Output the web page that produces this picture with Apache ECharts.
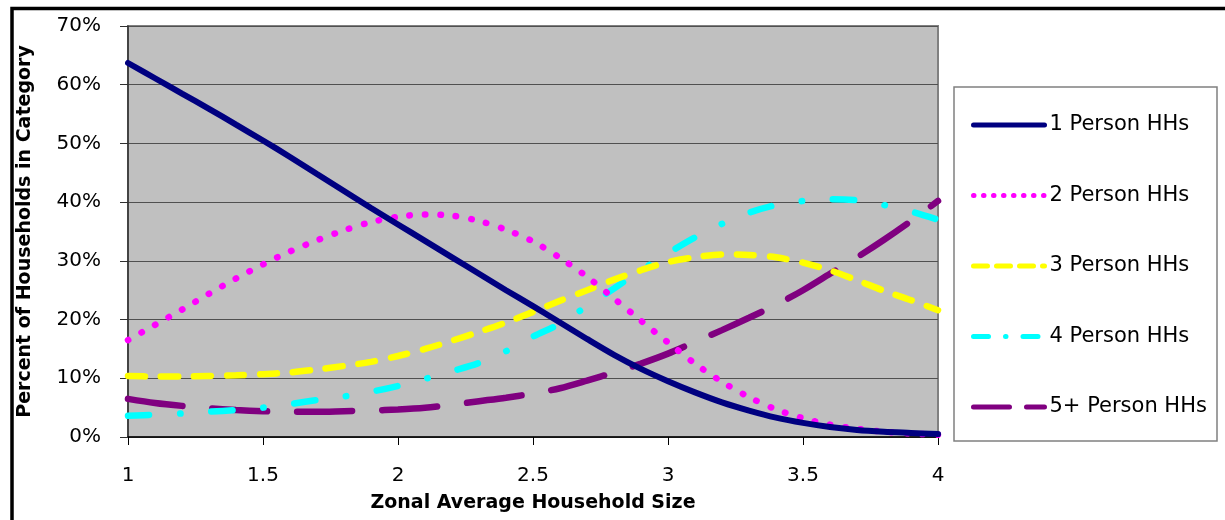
<!DOCTYPE html>
<html>
<head>
<meta charset="utf-8">
<script src="https://cdn.jsdelivr.net/npm/echarts@6/dist/echarts.min.js"></script>
<style>
html,body{margin:0;padding:0;background:#fff;}
#chart{width:1225px;height:520px;}
</style>
</head>
<body>
<div id="chart"></div>
<script>
// Zonal average household size (x)
const householdSize = [1.0,1.1,1.2,1.3,1.4,1.5,1.6,1.7,1.8,1.9,2.0,2.1,2.2,2.3,2.4,2.5,2.6,2.7,2.8,2.9,3.0,3.1,3.2,3.3,3.4,3.5,3.6,3.7,3.8,3.9,4.0];
// Percent of households in each category
const onePerson = [63.7,61.1,58.5,55.9,53.2,50.5,47.7,44.8,41.9,39.0,36.2,33.4,30.6,27.8,25.0,22.3,19.5,16.7,14.0,11.6,9.5,7.6,5.9,4.5,3.3,2.4,1.7,1.2,0.9,0.7,0.5];
const twoPerson = [16.5,19.1,21.7,24.4,27.0,29.4,31.6,33.5,35.2,36.6,37.5,37.9,37.7,36.8,35.3,33.3,30.5,27.3,23.6,19.8,16.1,12.5,9.4,6.8,4.7,3.2,2.1,1.4,0.9,0.6,0.4];
const threePerson = [10.4,10.3,10.3,10.4,10.5,10.7,11.0,11.5,12.1,12.8,13.8,15.0,16.4,17.9,19.5,21.3,23.2,25.0,26.8,28.4,29.8,30.6,31.1,31.0,30.6,29.7,28.4,26.7,24.9,23.3,21.6];
const fourPerson = [3.6,3.8,4.0,4.3,4.6,5.0,5.6,6.3,6.9,7.7,8.7,9.9,11.2,12.6,14.6,17.1,19.3,22.3,25.3,28.4,31.3,34.0,36.3,38.2,39.5,40.2,40.5,40.3,39.5,38.4,37.0];
const fivePlusPerson = [6.5,5.8,5.3,4.9,4.6,4.4,4.3,4.3,4.4,4.5,4.7,5.0,5.5,6.1,6.7,7.4,8.3,9.6,11.0,12.5,14.2,16.2,18.2,20.3,22.5,25.0,27.8,30.6,33.6,36.8,40.2];
const seriesNames = ['1 Person HHs','2 Person HHs','3 Person HHs','4 Person HHs','5+ Person HHs'];
const xTitle = 'Zonal Average Household Size';
const yTitle = 'Percent of Households in Category';

const pair = arr => householdSize.map((x, i) => [x, arr[i]]);

const styles = [
  {color:'#000080', width:6, type:'solid', cap:'round'},
  {color:'#FF00FF', width:6.5, type:[0.5,15], cap:'round'},
  {color:'#FFFF00', width:6.5, type:[17,16], cap:'round'},
  {color:'#00FFFF', width:6.5, type:[21,31,0.5,31], cap:'round'},
  {color:'#800080', width:6.5, type:[55,30], cap:'round'}
];
const legendDash = ['solid', [0.5,9.5], [14,9], [15,17,0.5,17], [36,17]];
const allData = [onePerson, twoPerson, threePerson, fourPerson, fivePlusPerson];

const chart = echarts.init(document.getElementById('chart'), null, {renderer:'canvas'});
chart.setOption({
  animation:false,
  backgroundColor:'#ffffff',
  textStyle:{fontFamily:'DejaVu Sans'},
  grid:{left:128, top:26, right:287, bottom:83, show:true, backgroundColor:'#C0C0C0', borderColor:'#808080', borderWidth:2},
  xAxis:{
    type:'value', min:1, max:4, interval:0.5,
    name:xTitle, nameLocation:'middle', nameGap:57,
    nameTextStyle:{fontFamily:'DejaVu Sans', fontWeight:'bold', fontSize:19, color:'#000'},
    axisLine:{show:true, lineStyle:{color:'#000', width:1.5}},
    axisTick:{show:true, length:8, lineStyle:{color:'#000'}},
    axisLabel:{fontFamily:'DejaVu Sans', fontSize:20, color:'#000', margin:29},
    splitLine:{show:false}
  },
  yAxis:{
    type:'value', min:0, max:70, interval:10,
    name:yTitle, nameLocation:'middle', nameGap:93, nameRotate:90,
    nameTextStyle:{fontFamily:'DejaVu Sans', fontWeight:'bold', fontSize:19, color:'#000'},
    axisLine:{show:true, lineStyle:{color:'#303030', width:1.5}},
    axisTick:{show:true, length:8, lineStyle:{color:'#303030'}},
    axisLabel:{fontFamily:'DejaVu Sans', fontSize:20, color:'#000', margin:27, formatter:'{value}%'},
    splitLine:{show:true, lineStyle:{color:'#505050', width:1.2}}
  },
  legend:{
    orient:'vertical', left:966, top:108,
    itemWidth:71, itemHeight:6, itemGap:46.5,
    textStyle:{fontFamily:'DejaVu Sans', fontSize:21, color:'#000', lineHeight:24},
    itemStyle:{opacity:0, borderWidth:0},
    lineStyle:{width:5, cap:'round'},
    data: seriesNames.map((name, i) => ({name, lineStyle:{type:legendDash[i], width:5, cap:'round', color:styles[i].color}, itemStyle:{opacity:0}}))
  },
  graphic:[
    {type:'rect', shape:{x:954, y:87, width:263, height:354}, style:{fill:'#fff', stroke:'#808080', lineWidth:1.5}, z:-1},
    {type:'rect', shape:{x:12, y:8.5, width:1400, height:700}, style:{fill:null, stroke:'#000', lineWidth:3.5}, z:10}
  ],
  series: seriesNames.map((name, i) => ({
    name, type:'line', data: pair(allData[i]),
    smooth:0.3, showSymbol:false, symbol:'none',
    lineStyle:styles[i], itemStyle:{color:styles[i].color},
    z: 5 - i
  }))
});
</script>
</body>
</html>
